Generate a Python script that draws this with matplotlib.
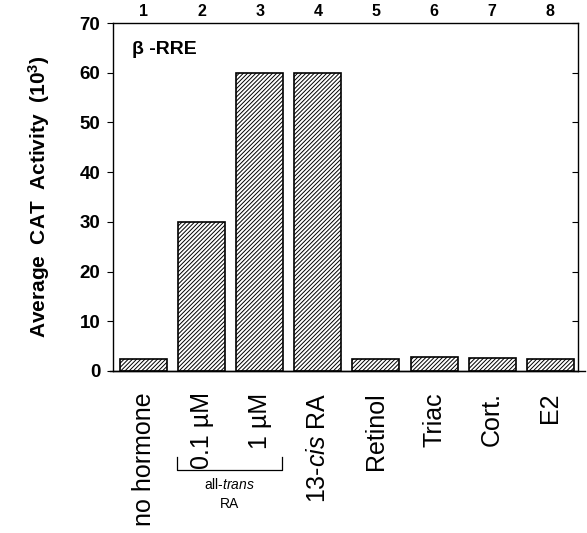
import matplotlib
matplotlib.use("Agg")
import matplotlib.pyplot as plt
import matplotlib.transforms as mtransforms

plt.rcParams['font.family'] = ['Liberation Sans', 'DejaVu Sans']
plt.rcParams['mathtext.fontset'] = 'custom'
plt.rcParams['mathtext.rm'] = 'Liberation Sans'
plt.rcParams['mathtext.it'] = 'Liberation Sans:italic'
plt.rcParams['mathtext.bf'] = 'Liberation Sans:bold'
plt.rcParams['hatch.linewidth'] = 0.7

lanes = [1, 2, 3, 4, 5, 6, 7, 8]
treatments = ["no hormone", "0.1 \u00b5M", "1 \u00b5M", r"13-$\mathit{cis}$ RA",
              "Retinol", "Triac", "Cort.", "E2"]
activity = [2.4, 30, 60, 60, 2.4, 2.8, 2.7, 2.5]
yticks = [0, 10, 20, 30, 40, 50, 60, 70]

fig = plt.figure(figsize=(5.87, 5.33), dpi=100)
ax = fig.add_axes([0.1925, 0.304, 0.7922, 0.6528])

ax.bar(lanes, activity, width=0.81, color='white', edgecolor='black',
       linewidth=1.2, hatch='////////')

ax.set_xlim(0.47, 8.48)
ax.set_ylim(0, 70)

ax.set_yticks(yticks)
ax.set_yticklabels([str(v) for v in yticks], fontsize=13.5, fontweight='bold')
ax.tick_params(axis='y', left=True, right=True, direction='out', length=4,
               width=0.8, pad=5)
for t in ax.yaxis.get_major_ticks():
    t.tick2line.set_marker(matplotlib.lines.TICKLEFT)

ax.set_xticks(lanes)
ax.set_xticklabels(treatments, rotation=90, fontsize=18, va='top',
                   fontweight='medium')
ax.tick_params(axis='x', bottom=False, top=False, pad=12)

# lane numbers along the top
top = ax.secondary_xaxis('top')
top.set_xticks(lanes)
top.set_xticklabels([str(n) for n in lanes], fontsize=11.5, fontweight='bold')
top.tick_params(length=0, pad=3)
top.spines['top'].set_visible(False)

ax.set_ylabel(r"Average  CAT  Activity  (10$^{\mathbf{3}}$)", fontsize=15,
              fontweight='bold', labelpad=20)

ax.text(0.04, 0.925, "\u03b2 -RRE", transform=ax.transAxes, fontsize=14,
        fontweight='bold', va='center', ha='left')

for s in ax.spines.values():
    s.set_linewidth(1.0)

# baseline runs a little past the right spine
ax.plot([-0.006, 1.016], [0, 0], transform=ax.transAxes, color='black',
        lw=1.0, clip_on=False)

# bracket for all-trans RA
trans = mtransforms.blended_transform_factory(ax.transData, ax.transAxes)
ax.plot([1.57, 1.57, 3.38, 3.38], [-0.247, -0.284, -0.284, -0.247],
        transform=trans, color='black', lw=0.9, clip_on=False)
ax.text(2.48, -0.325, r"all-$\mathit{trans}$", transform=trans, fontsize=10,
        ha='center', va='center')
ax.text(2.48, -0.382, "RA", transform=trans, fontsize=10,
        ha='center', va='center')

fig.savefig("out.png", dpi=100)
